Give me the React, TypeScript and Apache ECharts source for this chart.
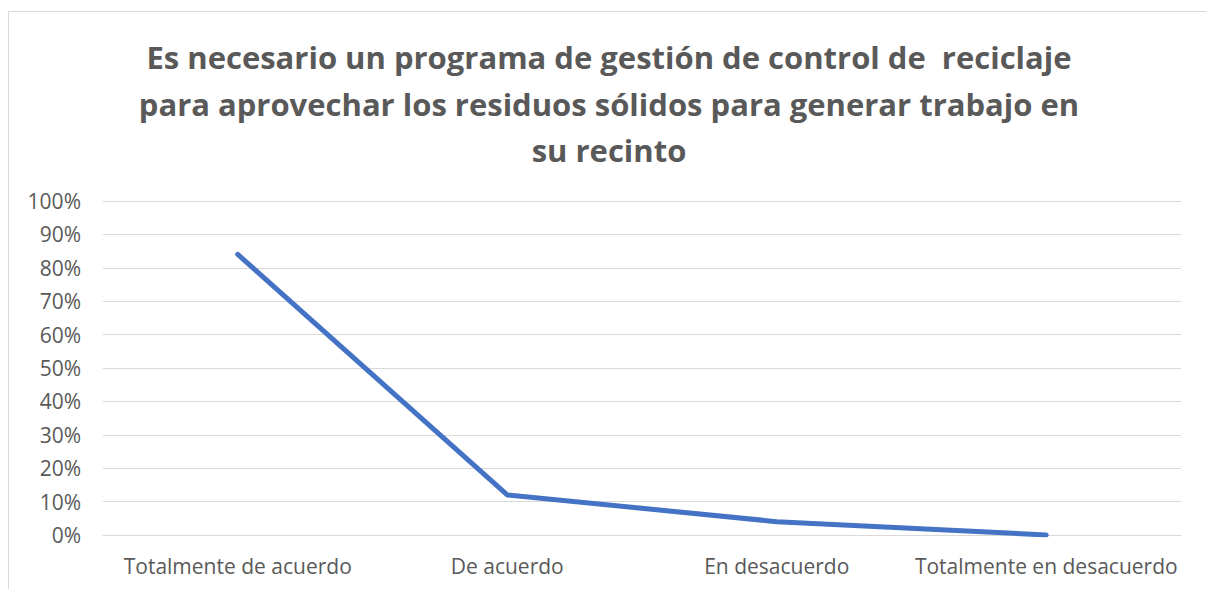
import React, { useEffect, useRef } from "react";
import * as echarts from "echarts";

const titleLines = [
  "Es necesario un programa de gestión de control de  reciclaje",
  "para aprovechar los residuos sólidos para generar trabajo en",
  "su recinto",
];
const categories = [
  "Totalmente de acuerdo",
  "De acuerdo",
  "En desacuerdo",
  "Totalmente en desacuerdo",
];
const values = [0.84, 0.12, 0.04, 0.0];

export default function App() {
  const ref = useRef<HTMLDivElement>(null);
  useEffect(() => {
    if (!ref.current) return;
    const chart = echarts.init(ref.current, undefined, { renderer: "svg" });
    chart.setOption({
      animation: false,
      backgroundColor: "#ffffff",
      graphic: [
        {
          type: "rect",
          silent: true,
          shape: { x: 8.5, y: 11.5, width: 1400, height: 800 },
          style: { fill: "none", stroke: "#d9d9d9", lineWidth: 1 },
        },
        {
          type: "text",
          x: 609,
          y: 34,
          style: {
            text: titleLines.join("\n"),
            align: "center",
            verticalAlign: "top",
            fontFamily: "Open Sans",
            fontWeight: "bold",
            fontSize: 31,
            lineHeight: 46.5,
            fill: "#595959",
          },
        },
      ],
      grid: { left: 103, right: 25, top: 201, height: 334, containLabel: false },
      xAxis: {
        type: "category",
        data: categories,
        boundaryGap: true,
        axisLine: { show: true, lineStyle: { color: "#d9d9d9", width: 1 } },
        axisTick: { show: false },
        axisLabel: {
          interval: 0,
          color: "#595959",
          fontFamily: "Open Sans",
          fontSize: 21,
          margin: 20,
        },
      },
      yAxis: {
        type: "value",
        min: 0,
        max: 1,
        interval: 0.1,
        axisLine: { show: false },
        axisTick: { show: false },
        splitLine: { lineStyle: { color: "#d9d9d9", width: 1 } },
        axisLabel: {
          color: "#595959",
          fontFamily: "Open Sans",
          fontSize: 21,
          margin: 22,
          formatter: (v: number) => Math.round(v * 100) + "%",
        },
      },
      series: [
        {
          type: "line",
          data: values,
          showSymbol: false,
          symbol: "none",
          lineStyle: { color: "#4472C4", width: 5, cap: "round", join: "round" },
          itemStyle: { color: "#4472C4" },
        },
      ],
    });
    return () => chart.dispose();
  }, []);
  return (
    <div
      ref={ref}
      style={{ position: "fixed", left: 0, top: 0, width: 1206, height: 589 }}
    />
  );
}
